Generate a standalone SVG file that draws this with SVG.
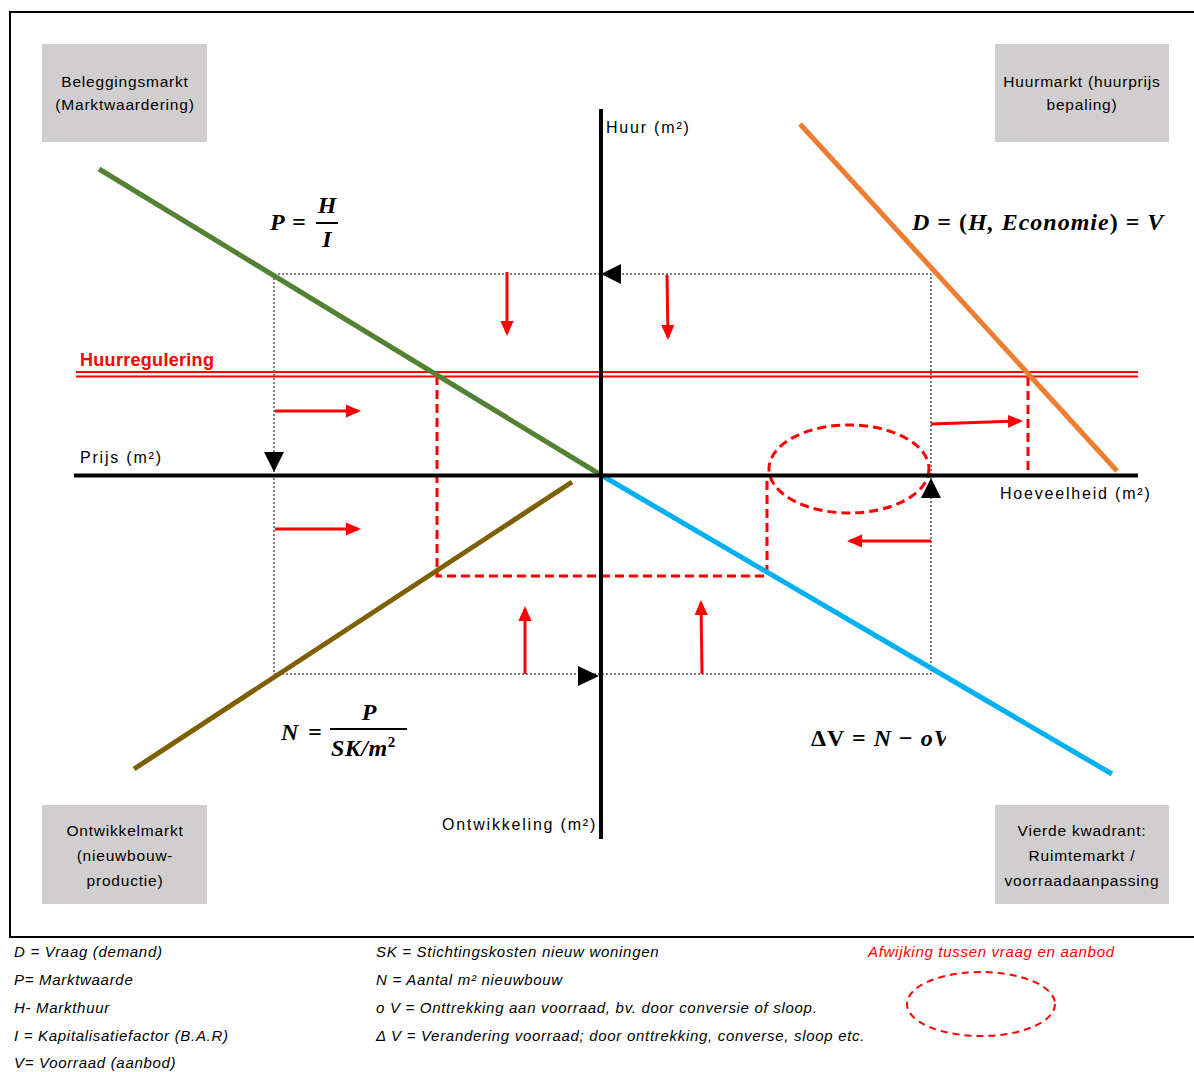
<svg xmlns="http://www.w3.org/2000/svg" width="1194" height="1072" viewBox="0 0 1194 1072">
<style>
.box{fill:#d0cece}
.bt{font-family:"Liberation Sans",Arial,sans-serif;font-size:15.5px;fill:#000;text-anchor:middle;letter-spacing:0.8px}
.lab{font-family:"Liberation Sans",Arial,sans-serif;font-size:16px;fill:#000;letter-spacing:1.8px}
.leg{font-family:"Liberation Sans",Arial,sans-serif;font-size:15px;font-style:italic;fill:#000;letter-spacing:0.7px}
.math{font-family:"Liberation Serif","DejaVu Serif",serif;font-size:24px;font-weight:bold;font-style:italic;fill:#000}
.ra{stroke:#ff0000;stroke-width:3;fill:none;marker-end:url(#rh)}
.rd{stroke:#ff0000;stroke-width:3;fill:none;stroke-dasharray:9,5}
.dot{stroke:#000;stroke-width:1;fill:none;stroke-dasharray:2,2}
</style>
<defs>
<marker id="rh" markerWidth="5" markerHeight="4.4" refX="4" refY="2.2" orient="auto" markerUnits="strokeWidth">
<path d="M0,0 L5,2.2 L0,4.4 Z" fill="#ff0000"/>
</marker>
<clipPath id="cv"><rect x="800" y="715" width="146" height="45"/></clipPath>
</defs>
<rect x="0" y="0" width="1194" height="1072" fill="#fff"/>
<rect x="10" y="12" width="1200" height="925" fill="none" stroke="#000" stroke-width="2"/>

<g id="box-beleggingsmarkt"><rect class="box" x="42" y="44" width="165" height="98"/><text class="bt" x="125" y="87">Beleggingsmarkt</text><text class="bt" x="125" y="110">(Marktwaardering)</text></g>
<g id="box-huurmarkt"><rect class="box" x="995" y="44" width="174" height="98"/><text class="bt" x="1082" y="87">Huurmarkt (huurprijs</text><text class="bt" x="1082" y="110">bepaling)</text></g>
<g id="box-ontwikkelmarkt"><rect class="box" x="42" y="805" width="165" height="99"/><text class="bt" x="125" y="836">Ontwikkelmarkt</text><text class="bt" x="125" y="861">(nieuwbouw-</text><text class="bt" x="125" y="886">productie)</text></g>
<g id="box-vierde"><rect class="box" x="995" y="805" width="174" height="99"/><text class="bt" x="1082" y="836">Vierde kwadrant:</text><text class="bt" x="1082" y="861">Ruimtemarkt /</text><text class="bt" x="1082" y="886">voorraadaanpassing</text></g>

<g id="connectors">
<rect class="dot" x="274" y="274" width="657" height="400"/>
<line x1="76" y1="372" x2="1138" y2="372" stroke="#ff0000" stroke-width="2"/>
<line x1="76" y1="376.5" x2="1138" y2="376.5" stroke="#ff0000" stroke-width="2"/>
<polyline class="rd" points="437,376 437,576 767,576 767,476"/>
<line class="rd" x1="1028" y1="377" x2="1028" y2="475"/>
<ellipse class="rd" cx="849" cy="469" rx="80" ry="44" stroke-width="2" stroke-dasharray="7,5"/>
<line x1="99" y1="169" x2="601" y2="475" stroke="#548235" stroke-width="5"/>
<line x1="601" y1="475" x2="1112" y2="774" stroke="#00b0f0" stroke-width="5"/>
<line x1="134" y1="769" x2="572" y2="482" stroke="#7f6000" stroke-width="5"/>
<line x1="800" y1="124" x2="1117" y2="471" stroke="#ed7d31" stroke-width="5"/>
<line x1="601" y1="109" x2="601" y2="839" stroke="#000" stroke-width="4"/>
<line x1="74" y1="475.5" x2="1138" y2="475.5" stroke="#000" stroke-width="4"/>
<path d="M601,274 L621,264 L621,284 Z" fill="#000"/>
<path d="M274,472 L264,452 L284,452 Z" fill="#000"/>
<path d="M931,478 L921,498 L941,498 Z" fill="#000"/>
<path d="M599,676 L578,666 L578,686 Z" fill="#000"/>
<line class="ra" x1="507" y1="272" x2="507" y2="333"/>
<line class="ra" x1="667" y1="275" x2="668" y2="337"/>
<line class="ra" x1="275" y1="411" x2="358" y2="411"/>
<line class="ra" x1="275" y1="529" x2="358" y2="529"/>
<line class="ra" x1="525" y1="674" x2="525" y2="609"/>
<line class="ra" x1="702" y1="674" x2="701" y2="603"/>
<line class="ra" x1="931" y1="424" x2="1020" y2="421"/>
<line class="ra" x1="931" y1="541" x2="850" y2="541"/>
</g>

<g id="labels">
<text class="lab" x="606" y="133">Huur (m²)</text>
<text class="lab" x="80" y="463">Prijs (m²)</text>
<text class="lab" x="1000" y="499">Hoeveelheid (m²)</text>
<text class="lab" x="442" y="830">Ontwikkeling (m²)</text>
<text x="80" y="366" font-family="Liberation Sans,Arial,sans-serif" font-size="18" font-weight="bold" fill="#ff0000" letter-spacing="0.3">Huurregulering</text>
</g>

<g id="formulas">
<text class="math" x="270" y="230">P</text><text class="math" x="292" y="230" font-style="normal">=</text>
<text class="math" x="327" y="213" text-anchor="middle">H</text>
<line x1="316" y1="223" x2="338" y2="223" stroke="#000" stroke-width="2"/>
<text class="math" x="327" y="247" text-anchor="middle">I</text>

<text class="math" x="912" y="230" letter-spacing="1">D <tspan font-style="normal">= (</tspan>H, Economie<tspan font-style="normal">) =</tspan> V</text>

<text class="math" x="281" y="740">N</text><text class="math" x="308" y="740" font-style="normal">=</text>
<text class="math" x="369" y="720" text-anchor="middle">P</text>
<line x1="330" y1="729" x2="407" y2="729" stroke="#000" stroke-width="2"/>
<text class="math" x="331" y="756" letter-spacing="0.5">SK/m<tspan font-size="15" dy="-9" font-style="normal">2</tspan></text>

<text class="math" x="811" y="746" clip-path="url(#cv)" letter-spacing="1"><tspan font-style="normal">ΔV = </tspan>N <tspan font-style="normal">−</tspan> oV</text>
</g>

<g id="legend">
<text class="leg" x="14" y="957">D = Vraag (demand)</text>
<text class="leg" x="14" y="985">P= Marktwaarde</text>
<text class="leg" x="14" y="1013">H- Markthuur</text>
<text class="leg" x="14" y="1041">I = Kapitalisatiefactor (B.A.R)</text>
<text class="leg" x="14" y="1068">V= Voorraad (aanbod)</text>
<text class="leg" x="376" y="957">SK = Stichtingskosten nieuw woningen</text>
<text class="leg" x="376" y="985">N = Aantal m² nieuwbouw</text>
<text class="leg" x="376" y="1013">o V = Onttrekking aan voorraad, bv. door conversie of sloop.</text>
<text class="leg" x="376" y="1041">Δ V = Verandering voorraad; door onttrekking, converse, sloop etc.</text>
<text class="leg" x="868" y="957" style="fill:#ff0000">Afwijking tussen vraag en aanbod</text>
<ellipse cx="981" cy="1004" rx="74" ry="32" fill="none" stroke="#ff0000" stroke-width="2" stroke-dasharray="7,5"/>
</g>
</svg>
